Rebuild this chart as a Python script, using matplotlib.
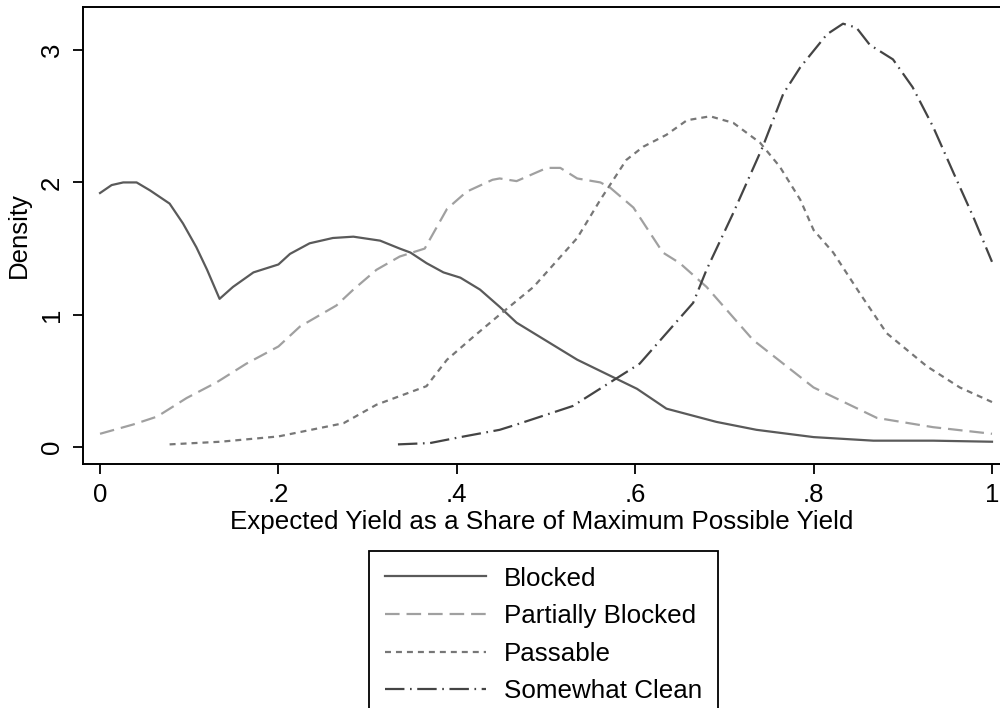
import matplotlib.pyplot as plt

plt.rcParams['font.family'] = ['Liberation Sans', 'DejaVu Sans']
plt.rcParams['lines.scale_dashes'] = False

# density curves
blocked_x = [0, 0.013, 0.026, 0.041, 0.056, 0.067, 0.078, 0.093, 0.108, 0.12, 0.134,
             0.149, 0.172, 0.2, 0.213, 0.235, 0.261, 0.284, 0.314, 0.336, 0.348,
             0.366, 0.385, 0.404, 0.426, 0.448, 0.467, 0.535, 0.602, 0.635,
             0.691, 0.736, 0.8, 0.867, 0.934, 1.0]
blocked_y = [1.92, 1.98, 2.0, 2.0, 1.94, 1.89, 1.84, 1.69, 1.51, 1.34, 1.12,
             1.21, 1.32, 1.38, 1.46, 1.54, 1.58, 1.59, 1.56, 1.50, 1.47,
             1.39, 1.32, 1.28, 1.19, 1.06, 0.94, 0.66, 0.44, 0.29,
             0.19, 0.13, 0.075, 0.048, 0.048, 0.04]

partial_x = [0, 0.037, 0.064, 0.097, 0.131, 0.164, 0.2, 0.224, 0.265, 0.284,
             0.31, 0.336, 0.364, 0.374, 0.389, 0.411, 0.44, 0.448, 0.467, 0.501,
             0.516, 0.535, 0.561, 0.572, 0.598, 0.631, 0.65, 0.68, 0.732, 0.8,
             0.871, 0.934, 1.0]
partial_y = [0.10, 0.17, 0.23, 0.37, 0.49, 0.63, 0.76, 0.91, 1.07, 1.19,
             1.34, 1.44, 1.50, 1.62, 1.80, 1.93, 2.02, 2.03, 2.01, 2.11,
             2.11, 2.03, 2.0, 1.96, 1.81, 1.47, 1.39, 1.21, 0.81, 0.45,
             0.22, 0.15, 0.10]

passable_x = [0.078, 0.135, 0.2, 0.273, 0.31, 0.366, 0.389, 0.418, 0.448, 0.486,
              0.535, 0.561, 0.59, 0.609, 0.635, 0.658, 0.684, 0.71, 0.74, 0.762,
              0.785, 0.8, 0.822, 0.852, 0.882, 0.927, 0.964, 1.0]
passable_y = [0.02, 0.04, 0.08, 0.18, 0.32, 0.46, 0.66, 0.83, 1.0, 1.21,
              1.58, 1.87, 2.17, 2.27, 2.36, 2.47, 2.50, 2.45, 2.30, 2.12,
              1.87, 1.64, 1.47, 1.16, 0.86, 0.61, 0.45, 0.34]

clean_x = [0.334, 0.37, 0.404, 0.448, 0.467, 0.53, 0.605, 0.665, 0.68, 0.71,
           0.743, 0.766, 0.785, 0.815, 0.833, 0.848, 0.863, 0.889, 0.911, 0.934,
           0.957, 0.979, 1.0]
clean_y = [0.02, 0.03, 0.075, 0.13, 0.17, 0.31, 0.63, 1.09, 1.34, 1.77,
           2.27, 2.67, 2.87, 3.12, 3.2, 3.17, 3.04, 2.93, 2.72, 2.42,
           2.07, 1.74, 1.40]

labels = ['Blocked', 'Partially Blocked', 'Passable', 'Somewhat Clean']
xticks = [0, 0.2, 0.4, 0.6, 0.8, 1.0]
xticklabels = ['0', '.2', '.4', '.6', '.8', '1']
yticks = [0, 1, 2, 3]

fig = plt.figure(figsize=(10, 7.08), dpi=100)
ax = fig.add_axes([0.083, 0.3446, 0.918, 0.6455])

ax.plot(blocked_x, blocked_y, color='#5a5a5a', lw=1.6, label=labels[0])
ax.plot(partial_x, partial_y, color='#a0a0a0', lw=1.6, dashes=(10.5, 5), label=labels[1])
ax.plot(passable_x, passable_y, color='#777777', lw=1.6, dashes=(4.3, 3.6), label=labels[2])
ax.plot(clean_x, clean_y, color='#444444', lw=1.6, dashes=(14, 4, 1.2, 4), label=labels[3])

ax.set_xlim(-0.0191, 1.0101)
ax.set_ylim(-0.1285, 3.326)
ax.set_xticks(xticks)
ax.set_xticklabels(xticklabels)
ax.set_yticks(yticks)
ax.set_yticklabels([str(t) for t in yticks], rotation=90, va='center')
ax.tick_params(labelsize=18.5, length=7, width=1.3, pad=7)
for s in ax.spines.values():
    s.set_linewidth(1.4)

ax.set_xlabel('Expected Yield as a Share of Maximum Possible Yield', fontsize=18.7, labelpad=2)
ax.set_ylabel('Density', fontsize=18.5, labelpad=6)

fig.legend(loc='upper left', bbox_to_anchor=(0.369, 1 - 551 / 708),
           bbox_transform=fig.transFigure, fontsize=18.7, frameon=True, fancybox=False,
           edgecolor='black', framealpha=1, handlelength=3.9, handletextpad=0.7,
           labelspacing=0.52, borderpad=0.6, borderaxespad=0)
fig.legends[0].get_frame().set_linewidth(1.3)

fig.savefig('out.png', dpi=100)
